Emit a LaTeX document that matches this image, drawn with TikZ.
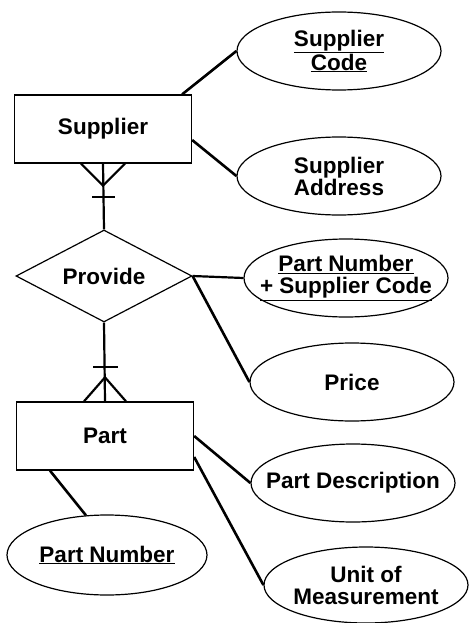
\documentclass[tikz,border=0pt]{standalone}
\usepackage{fontspec}
\setmainfont{Liberation Sans}
\usetikzlibrary{shapes.geometric,calc}
\begin{document}
\begin{tikzpicture}[x=1pt,y=-1pt,
  every node/.style={font=\fontsize{22.5}{22}\selectfont\bfseries, align=center, inner sep=0pt},
  entity/.style={draw, line width=1.3pt, rectangle, minimum width=177pt, minimum height=68pt},
  attr/.style={draw, line width=1.2pt, ellipse, inner xsep=-45pt, minimum width=204pt, minimum height=78pt},
  rel/.style={draw, line width=1.2pt, diamond, aspect=2, minimum width=176pt, minimum height=92pt},
  conn/.style={line width=2.6pt},
  link/.style={line width=2.2pt}]
\useasboundingbox (0,0) rectangle (470,623);
% entities
\node[entity] (sup) at (103,129) {Supplier};
\node[entity] (part) at (105,436) {Part};
\node[rel] (prov) at (104,276) {Provide};
% attributes
\node[attr] (scode) at (339,51) {\underline{Supplier}\\\underline{Code}};
\node[attr] (saddr) at (339,176) {Supplier\\Address};
\node[attr] (pnsc) at (346,278) {\underline{Part Number}\\\underline{+ Supplier Code}};
\node[attr] (price) at (352,382) {Price};
\node[attr] (pdesc) at (353,483) {Part Description};
\node[attr, minimum height=76pt] (unit) at (366,585) {Unit of\\Measurement};
\node[attr, minimum width=200pt, minimum height=80pt] (pnum) at (107,555) {\underline{Part Number}};
% attribute connectors
\draw[conn] ([xshift=-10pt]sup.north east) -- (scode.west);
\draw[conn] ([yshift=-11pt]sup.east) -- (saddr.west);
\draw[link] (prov.east) -- (pnsc.west);
\draw[conn] (prov.east) -- (price.west);
\draw[conn] (part.east) -- (pdesc.west);
\draw[conn] ([yshift=-21pt]part.east) -- (unit.west);
\draw[conn] ([xshift=-55pt]part.south) -- (pnum.118);
% relationship Supplier - Provide
\draw[link] (sup.south) -- (prov.north);
\draw[link] ($(sup.south)+(-22,0)$) -- ($(sup.south)+(0,22)$) -- ($(sup.south)+(22,0)$);
\draw[link] ($(sup.south)+(-11,33)$) -- ($(sup.south)+(12,33)$);
% relationship Provide - Part
\draw[link] (prov.south) -- (part.north);
\draw[link] ($(part.north)+(-21,0)$) -- ($(part.north)+(0,-24)$) -- ($(part.north)+(21,0)$);
\draw[link] ($(part.north)+(-12,-34)$) -- ($(part.north)+(13,-34)$);
\end{tikzpicture}
\end{document}
